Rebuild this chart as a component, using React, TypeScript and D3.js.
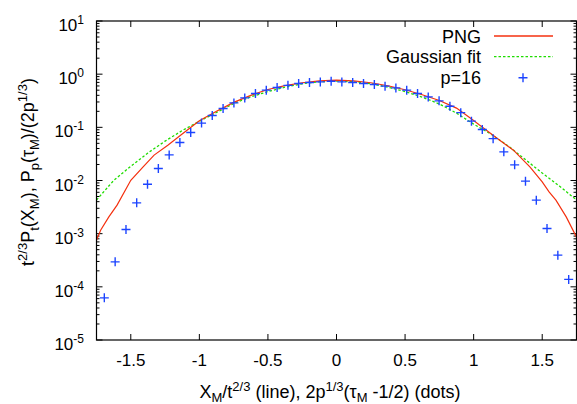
import React from "react";
import * as d3 from "d3";

// ---- data ----
const pngX = [-1.75, -1.72, -1.66, -1.6, -1.5, -1.41, -1.33, -1.23, -1.13, -1.0, -0.875, -0.75, -0.625, -0.5, -0.375, -0.25, -0.125, 0, 0.125, 0.25, 0.375, 0.5, 0.625, 0.75, 0.875, 1.0, 1.04, 1.19, 1.29, 1.41, 1.5, 1.55, 1.6, 1.675, 1.75];
const pngY = [7.55e-4, 1.16e-3, 2.07e-3, 3.44e-3, 0.0101, 0.0181, 0.030, 0.0462, 0.073, 0.133, 0.2, 0.295, 0.40, 0.515, 0.61, 0.69, 0.745, 0.77, 0.75, 0.69, 0.605, 0.51, 0.41, 0.32, 0.23, 0.135, 0.112, 0.0574, 0.0372, 0.0181, 0.0094, 0.0061, 0.00427, 0.00207, 8.6e-4];

const gaussX = [-1.75, -1.625, -1.5, -1.375, -1.25, -1.125, -1.0, -0.875, -0.75, -0.625, -0.5, -0.375, -0.25, -0.125, 0, 0.125, 0.25, 0.375, 0.5, 0.625, 0.75, 0.875, 1.0, 1.125, 1.25, 1.375, 1.5, 1.625, 1.75];
const gaussY = [0.0043, 0.0100, 0.0185, 0.033, 0.055, 0.087, 0.130, 0.190, 0.280, 0.375, 0.47, 0.57, 0.66, 0.72, 0.74, 0.72, 0.66, 0.57, 0.47, 0.37, 0.275, 0.185, 0.115, 0.075, 0.045, 0.025, 0.0138, 0.0079, 0.0043];

const p16X = [-1.693, -1.614, -1.535, -1.457, -1.378, -1.299, -1.22, -1.142, -1.063, -0.984, -0.906, -0.827, -0.748, -0.669, -0.591, -0.512, -0.433, -0.354, -0.276, -0.197, -0.118, -0.039, 0.039, 0.118, 0.197, 0.276, 0.354, 0.433, 0.512, 0.591, 0.669, 0.748, 0.827, 0.906, 0.984, 1.063, 1.142, 1.22, 1.299, 1.378, 1.457, 1.535, 1.614, 1.693];
const p16Y = [6.2e-5, 2.95e-4, 1.2e-3, 3.8e-3, 8.5e-3, 0.0168, 0.0303, 0.0519, 0.080, 0.120, 0.167, 0.226, 0.288, 0.358, 0.434, 0.500, 0.562, 0.616, 0.668, 0.698, 0.716, 0.738, 0.716, 0.698, 0.668, 0.640, 0.595, 0.552, 0.500, 0.434, 0.374, 0.315, 0.250, 0.189, 0.1306, 0.0912, 0.0612, 0.0346, 0.0197, 0.00972, 0.00427, 0.00125, 0.000394, 0.000138];

const xTicks = [-1.5, -1, -0.5, 0, 0.5, 1, 1.5];
const xTickLabels = ["-1.5", "-1", "-0.5", "0", "0.5", "1", "1.5"];
const yExponents = [1, 0, -1, -2, -3, -4, -5];

const legendLabels = ["PNG", "Gaussian fit", "p=16"];

type Seg = { t: string; s?: "sup" | "sub" };

const xLabelSegs: Seg[] = [
  { t: "X" }, { t: "M", s: "sub" }, { t: "/t" }, { t: "2/3", s: "sup" },
  { t: " (line), 2p" }, { t: "1/3", s: "sup" }, { t: "(τ" }, { t: "M", s: "sub" },
  { t: " -1/2) (dots)" },
];
const yLabelSegs: Seg[] = [
  { t: "t" }, { t: "2/3", s: "sup" }, { t: "P" }, { t: "t", s: "sub" }, { t: "(X" },
  { t: "M", s: "sub" }, { t: "), P" }, { t: "p", s: "sub" }, { t: "(τ" }, { t: "M", s: "sub" },
  { t: ")/(2p" }, { t: "1/3", s: "sup" }, { t: ")" },
];

function RichText({ segs, small, sub }: { segs: Seg[]; small: number; sub: number }) {
  let cur = 0;
  return (
    <>
      {segs.map((sg, i) => {
        const target = sg.s === "sup" ? -7 : sg.s === "sub" ? sub : 0;
        const dy = target - cur;
        cur = target;
        return (
          <tspan key={i} dy={dy} fontSize={sg.s ? small : undefined}>
            {sg.t}
          </tspan>
        );
      })}
    </>
  );
}

export default function App() {
  const W = 577, H = 404;
  const left = 96.5, right = 576.5, top = 21, bottom = 340;
  const x = d3.scaleLinear().domain([-1.75, 1.75]).range([left, right]);
  const y = d3.scaleLog().domain([1e-5, 10]).range([bottom, top]);
  const font = "'Liberation Sans', Arial, Helvetica, sans-serif";
  const red = "#f4300f";
  const green = "#1fdc00";
  const blue = "#1c44ff";

  const line = d3
    .line<[number, number]>()
    .x((d) => x(d[0]))
    .y((d) => y(d[1]));
  const pngPath = line(pngX.map((v, i) => [v, pngY[i]]) as [number, number][]) || "";
  const gaussPath = line(gaussX.map((v, i) => [v, gaussY[i]]) as [number, number][]) || "";

  const minorY: number[] = [];
  for (let e = -5; e < 1; e++) {
    for (let m = 2; m <= 9; m++) minorY.push(m * Math.pow(10, e));
  }

  const plus = (cx: number, cy: number, k: string | number) => (
    <path
      key={k}
      d={`M${cx - 4.5},${cy}H${cx + 4.5}M${cx},${cy - 4.5}V${cy + 4.5}`}
      stroke={blue}
      strokeWidth={1.4}
      fill="none"
    />
  );

  const legendY = [36, 56.7, 77.7];

  return (
    <svg
      width={W}
      height={H}
      viewBox={`0 0 ${W} ${H}`}
      style={{ position: "absolute", left: 0, top: 0, background: "#fff" }}
      fontFamily={font}
    >
      <defs>
        <clipPath id="plotclip">
          <rect x={left} y={top} width={right - left} height={bottom - top} />
        </clipPath>
      </defs>
      <rect width={W} height={H} fill="#fff" />

      {/* ticks */}
      <g stroke="#000" strokeWidth={1}>
        {xTicks.map((t, i) => (
          <g key={i}>
            <line x1={x(t)} x2={x(t)} y1={bottom} y2={bottom - 6} />
            <line x1={x(t)} x2={x(t)} y1={top} y2={top + 6} />
          </g>
        ))}
        {yExponents.map((e, i) => (
          <g key={i}>
            <line x1={left} x2={left + 6} y1={y(Math.pow(10, e))} y2={y(Math.pow(10, e))} />
            <line x1={right} x2={right - 6} y1={y(Math.pow(10, e))} y2={y(Math.pow(10, e))} />
          </g>
        ))}
        {minorY.map((v, i) => (
          <g key={i}>
            <line x1={left} x2={left + 3} y1={y(v)} y2={y(v)} />
            <line x1={right} x2={right - 3} y1={y(v)} y2={y(v)} />
          </g>
        ))}
      </g>

      {/* tick labels */}
      <g fontSize={17} fill="#000">
        {xTicks.map((t, i) => (
          <text key={i} x={x(t)} y={366} textAnchor="middle">
            {xTickLabels[i]}
          </text>
        ))}
        {yExponents.map((e, i) => (
          <text key={i} x={84} y={y(Math.pow(10, e)) + 10} textAnchor="end">
            10<tspan dy={-7} fontSize={12}>{String(e)}</tspan>
          </text>
        ))}
      </g>

      {/* data */}
      <g clipPath="url(#plotclip)">
        <path d={gaussPath} fill="none" stroke={green} strokeWidth={1.3} strokeDasharray="2.5,2" />
        <path d={pngPath} fill="none" stroke={red} strokeWidth={1.2} />
        {p16X.map((v, i) => plus(x(v), y(p16Y[i]), i))}
      </g>

      {/* frame */}
      <rect x={left} y={top} width={right - left} height={bottom - top} fill="none" stroke="#000" strokeWidth={1.2} />

      {/* legend */}
      <g fontSize={18} fill="#000">
        {legendLabels.map((l, i) => (
          <text key={i} x={481} y={legendY[i] + 6.5} textAnchor="end">
            {l}
          </text>
        ))}
      </g>
      <line x1={494} x2={553} y1={legendY[0]} y2={legendY[0]} stroke={red} strokeWidth={1.3} />
      <line x1={494} x2={553} y1={legendY[1]} y2={legendY[1]} stroke={green} strokeWidth={1.3} strokeDasharray="2.5,2" />
      {plus(523, legendY[2], "leg")}

      {/* axis labels */}
      <text x={330} y={398} textAnchor="middle" fontSize={18} fill="#000">
        <RichText segs={xLabelSegs} small={13} sub={4} />
      </text>
      <text transform="translate(34,172) rotate(-90)" textAnchor="middle" fontSize={18} fill="#000">
        <RichText segs={yLabelSegs} small={13} sub={5} />
      </text>
    </svg>
  );
}
